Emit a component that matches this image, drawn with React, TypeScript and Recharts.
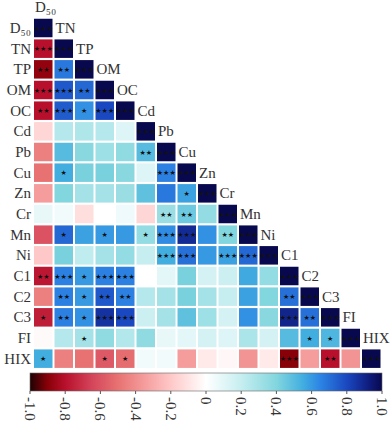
import { ScatterChart, Scatter, XAxis, YAxis } from 'recharts';

const VARS = ['D₅₀', 'TN', 'TP', 'OM', 'OC', 'Cd', 'Pb', 'Cu', 'Zn', 'Cr', 'Mn', 'Ni', 'C1', 'C2', 'C3', 'FI', 'HIX'];

// lower triangle of the correlation matrix, row by row (diagonal included)
const R_D50 = [1];
const R_TN = [-0.8, 1];
const R_TP = [-0.88, 0.68, 1];
const R_OM = [-0.8, 0.76, 0.72, 1];
const R_OC = [-0.8, 0.75, 0.62, 0.8, 1];
const R_CD = [-0.15, 0.25, 0.27, 0.25, 0.12, 1];
const R_PB = [-0.45, 0.5, 0.38, 0.32, 0.36, 0.5, 1];
const R_CU = [-0.5, 0.55, 0.42, 0.42, 0.38, 0.12, 0.66, 1];
const R_ZN = [-0.35, 0.4, 0.3, 0.3, 0.33, 0.48, 0.68, 0.58, 1];
const R_CR = [0.08, 0.05, -0.12, 0.0, 0.06, -0.15, 0.33, 0.45, 0.35, 1];
const R_MN = [-0.6, 0.72, 0.58, 0.6, 0.6, 0.35, 0.63, 0.88, 0.62, 0.4, 1];
const R_NI = [-0.2, 0.42, 0.22, 0.3, 0.35, 0.2, 0.55, 0.7, 0.6, 0.58, 0.72, 1];
const R_C1 = [-0.78, 0.66, 0.6, 0.66, 0.66, 0.0, 0.1, 0.42, 0.15, 0.18, 0.56, 0.35, 1];
const R_C2 = [-0.45, 0.66, 0.6, 0.76, 0.66, 0.25, 0.3, 0.42, 0.3, 0.2, 0.58, 0.4, 0.7, 1];
const R_C3 = [-0.76, 0.66, 0.62, 0.86, 0.8, 0.18, 0.3, 0.48, 0.32, 0.15, 0.62, 0.38, 0.9, 0.7, 1];
const R_FI = [-0.02, 0.25, 0.3, 0.36, 0.26, 0.36, 0.08, 0.1, 0.15, 0.12, 0.28, 0.15, 0.5, 0.55, 0.52, 1];
const R_HIX = [0.55, -0.45, -0.5, -0.58, -0.52, 0.05, 0.05, -0.35, -0.08, -0.03, -0.38, -0.08, -0.9, -0.35, -0.8, -0.38, 1];

// significance marks, same layout
const S_D50 = ['***'];
const S_TN = ['***', '***'];
const S_TP = ['**', '**', '***'];
const S_OM = ['***', '***', '**', '***'];
const S_OC = ['**', '***', '*', '***', '***'];
const S_CD = ['', '', '', '', '', '***'];
const S_PB = ['', '', '', '', '', '**', '***'];
const S_CU = ['', '*', '', '', '', '', '***', '***'];
const S_ZN = ['', '', '', '', '', '', '', '*', '***'];
const S_CR = ['', '', '', '', '', '', '**', '**', '', '***'];
const S_MN = ['', '*', '', '*', '', '*', '***', '***', '', '**', '***'];
const S_NI = ['', '', '', '', '', '', '***', '***', '', '***', '***', '***'];
const S_C1 = ['**', '***', '*', '***', '***', '', '', '', '', '', '', '', '***'];
const S_C2 = ['', '**', '*', '**', '**', '', '', '', '', '', '', '', '**', '***'];
const S_C3 = ['*', '**', '*', '***', '***', '', '', '', '', '', '', '', '***', '**', '***'];
const S_FI = ['', '', '*', '', '', '', '', '', '', '', '', '', '', '*', '*', '***'];
const S_HIX = ['*', '', '', '*', '*', '', '', '', '', '', '', '', '***', '', '**', '', '***'];

const ROWS = [R_D50, R_TN, R_TP, R_OM, R_OC, R_CD, R_PB, R_CU, R_ZN, R_CR, R_MN, R_NI, R_C1, R_C2, R_C3, R_FI, R_HIX];
const SIGS = [S_D50, S_TN, S_TP, S_OM, S_OC, S_CD, S_PB, S_CU, S_ZN, S_CR, S_MN, S_NI, S_C1, S_C2, S_C3, S_FI, S_HIX];

const BAR_TICKS = [-1, -0.8, -0.6, -0.4, -0.2, 0, 0.2, 0.4, 0.6, 0.8, 1];
const BAR_LABELS = ['-1.0', '-0.8', '-0.6', '-0.4', '-0.2', '0', '0.2', '0.4', '0.6', '0.8', '1.0'];

const STOPS: [number, string][] = [
  [-1, '#1e0202'],
  [-0.9, '#880008'],
  [-0.8, '#b8102c'],
  [-0.65, '#d4445a'],
  [-0.5, '#e87272'],
  [-0.35, '#f59c9c'],
  [-0.2, '#ffc8c8'],
  [0, '#ffffff'],
  [0.2, '#c6eef0'],
  [0.4, '#82d6de'],
  [0.55, '#42aee0'],
  [0.65, '#2c84e4'],
  [0.8, '#1a48c0'],
  [0.92, '#101e80'],
  [1, '#08084e'],
];

const FONT = '"Liberation Serif", "Times New Roman", serif';
const CELL = 18.5;
const PITCH_X = 20.5;
const PITCH_Y = 20.66;

function hex(c: string): number[] {
  return [1, 3, 5].map((i) => parseInt(c.slice(i, i + 2), 16));
}

function colorFor(v: number): string {
  for (let i = 1; i < STOPS.length; i++) {
    const [v1, c1] = STOPS[i];
    if (v <= v1) {
      const [v0, c0] = STOPS[i - 1];
      const t = (v - v0) / (v1 - v0);
      const a = hex(c0);
      const b = hex(c1);
      const m = a.map((x, k) => Math.round(x + (b[k] - x) * t));
      return `rgb(${m[0]},${m[1]},${m[2]})`;
    }
  }
  return STOPS[STOPS.length - 1][1];
}

// positions are 1-based: variable k sits at column k+1 / row k+1
const cells = ROWS.flatMap((row, i) =>
  row.map((v, j) => ({ col: j + 1, row: i + 1, v, sig: SIGS[i][j] })),
);

function label(x: number, y: number, text: string, anchor: 'start' | 'end' = 'start') {
  return (
    <text x={x} y={y} textAnchor={anchor} dominantBaseline="central" fontSize={15} fontFamily={FONT} fill="#333">
      {text}
    </text>
  );
}

function CellShape(props: any) {
  const { cx, cy, payload } = props;
  if (cx == null || cy == null || !payload) return <g />;
  const diag = payload.col === payload.row;
  const left = cx - CELL / 2;
  return (
    <g>
      <rect x={left} y={cy - CELL / 2} width={CELL} height={CELL} fill={colorFor(payload.v)} />
      {payload.sig ? (
        <text
          x={cx}
          y={cy + 0.5}
          textAnchor="middle"
          dominantBaseline="central"
          fontSize={7}
          fontFamily="DejaVu Sans"
          fill="#111"
        >
          {payload.sig.replace(/\*/g, '★')}
        </text>
      ) : null}
      {/* column names sit beside the diagonal, the first one above it */}
      {diag && payload.col === 1 ? label(left + 1, cy - PITCH_Y, VARS[0]) : null}
      {diag && payload.col < VARS.length ? label(left + PITCH_X + 1, cy, VARS[payload.col]) : null}
    </g>
  );
}

function RowTick(props: any) {
  const { x, y, payload } = props;
  return label(x, y, VARS[payload.value - 1], 'end');
}

function ColorBar() {
  const left = 30;
  const right = 382;
  const top = 373;
  const h = 18;
  const xOf = (v: number) => left + ((v + 1) / 2) * (right - left);
  return (
    <svg width={392} height={60} viewBox="0 369 392 60" style={{ position: 'absolute', left: 0, top: 369 }}>
      <defs>
        <linearGradient id="cbar" x1="0" x2="1" y1="0" y2="0">
          {STOPS.map(([v, c]) => (
            <stop key={v} offset={(v + 1) / 2} stopColor={c} />
          ))}
        </linearGradient>
      </defs>
      <rect x={left} y={top} width={right - left} height={h} fill="url(#cbar)" stroke="#666" strokeWidth={0.6} />
      {BAR_TICKS.map((v, i) => (
        <g key={v}>
          <line x1={xOf(v)} x2={xOf(v)} y1={top + h} y2={top + h + 3} stroke="#555" />
          <text
            transform={`translate(${xOf(v)},${top + h + 6}) rotate(90)`}
            dominantBaseline="central"
            fontSize={15}
            fontFamily={FONT}
            fill="#333"
          >
            {BAR_LABELS[i]}
          </text>
        </g>
      ))}
    </svg>
  );
}

export default function App() {
  return (
    <div style={{ position: 'absolute', left: 0, top: 0, width: 392, height: 429, background: '#fff' }}>
      <ColorBar />
      <div style={{ position: 'absolute', left: 0, top: 0 }}>
        <ScatterChart width={392} height={429} margin={{ top: 0, right: 10.5, bottom: 60, left: 0 }}>
          <XAxis type="number" dataKey="col" domain={[0.5, 17.5]} hide />
          <YAxis
            type="number"
            dataKey="row"
            domain={[-0.355, 17.5]}
            reversed
            width={33}
            ticks={VARS.map((_, i) => i + 1)}
            interval={0}
            tick={<RowTick />}
            axisLine={false}
            tickLine={false}
            tickSize={0}
            tickMargin={2}
          />
          <Scatter data={cells} shape={CellShape} isAnimationActive={false} />
        </ScatterChart>
      </div>
    </div>
  );
}
